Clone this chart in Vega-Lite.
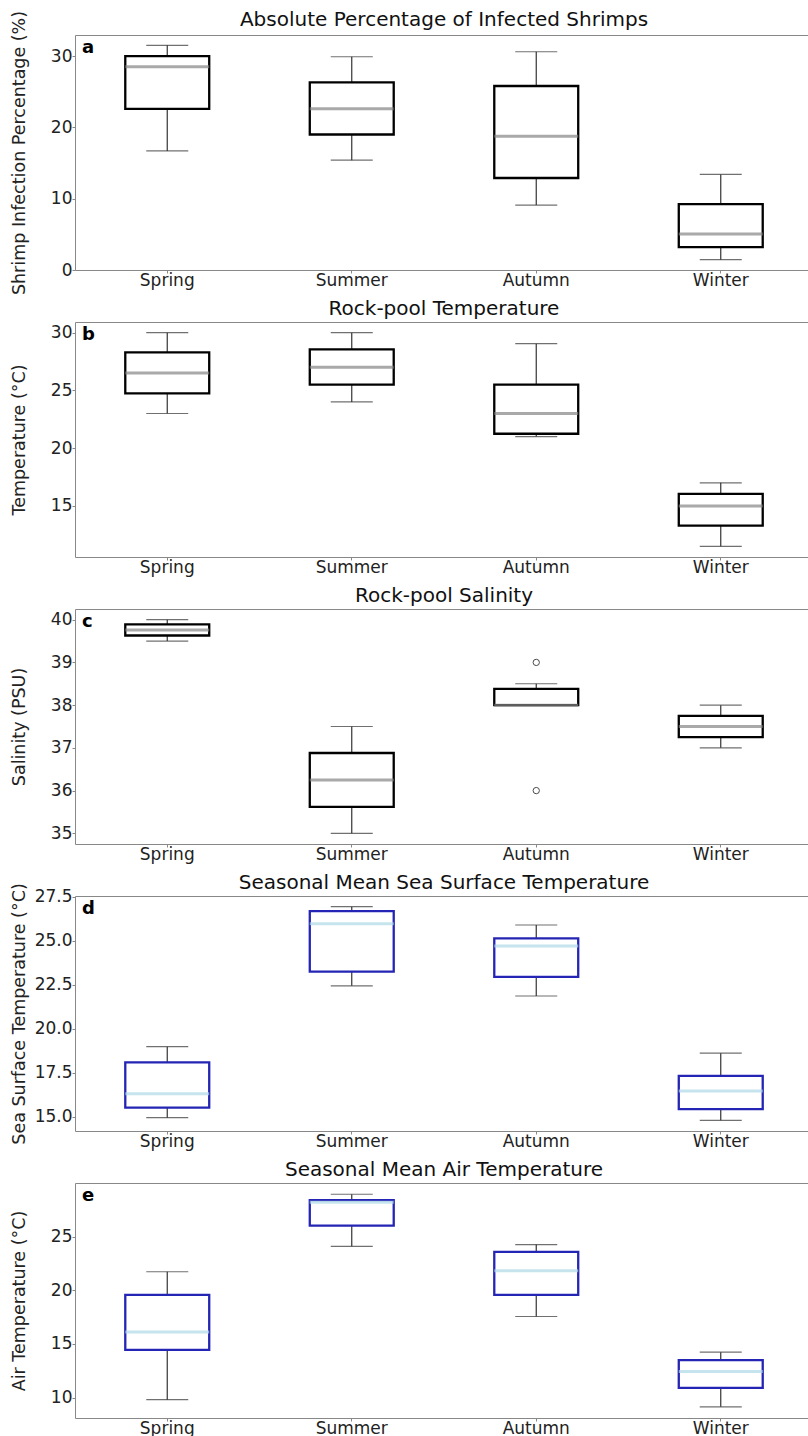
{
  "$schema": "https://vega.github.io/schema/vega-lite/v6.json",
  "padding": {"left": 9, "top": 9, "right": 0, "bottom": 0},
  "spacing": 52,
  "bounds": "flush",
  "datasets": {
    "a": [
      {"season": "Spring", "min": 16.7, "q1": 22.6, "median": 28.5, "q3": 30.0, "max": 31.5},
      {"season": "Summer", "min": 15.4, "q1": 19.0, "median": 22.6, "q3": 26.3, "max": 29.9},
      {"season": "Autumn", "min": 9.1, "q1": 12.9, "median": 18.75, "q3": 25.8, "max": 30.6},
      {"season": "Winter", "min": 1.45, "q1": 3.2, "median": 5.05, "q3": 9.25, "max": 13.4}
    ],
    "b": [
      {"season": "Spring", "min": 23.0, "q1": 24.75, "median": 26.5, "q3": 28.3, "max": 30.0},
      {"season": "Summer", "min": 24.0, "q1": 25.5, "median": 27.0, "q3": 28.55, "max": 30.0},
      {"season": "Autumn", "min": 21.0, "q1": 21.25, "median": 23.0, "q3": 25.5, "max": 29.05},
      {"season": "Winter", "min": 11.5, "q1": 13.3, "median": 15.0, "q3": 16.05, "max": 17.0}
    ],
    "c": [
      {"season": "Spring", "min": 39.5, "q1": 39.63, "median": 39.76, "q3": 39.89, "max": 40.0},
      {"season": "Summer", "min": 35.0, "q1": 35.62, "median": 36.25, "q3": 36.88, "max": 37.5},
      {"season": "Autumn", "min": 38.0, "q1": 38.0, "median": 38.0, "q3": 38.38, "max": 38.5},
      {"season": "Winter", "min": 37.0, "q1": 37.25, "median": 37.5, "q3": 37.75, "max": 38.0}
    ],
    "c_out": [
      {"season": "Autumn", "value": 39.0},
      {"season": "Autumn", "value": 36.0}
    ],
    "d": [
      {"season": "Spring", "min": 14.94, "q1": 15.51, "median": 16.3, "q3": 18.08, "max": 18.98},
      {"season": "Summer", "min": 22.44, "q1": 23.25, "median": 25.97, "q3": 26.69, "max": 26.94},
      {"season": "Autumn", "min": 21.86, "q1": 22.95, "median": 24.71, "q3": 25.14, "max": 25.9},
      {"season": "Winter", "min": 14.79, "q1": 15.43, "median": 16.45, "q3": 17.32, "max": 18.61}
    ],
    "e": [
      {"season": "Spring", "min": 9.81, "q1": 14.44, "median": 16.11, "q3": 19.57, "max": 21.73},
      {"season": "Summer", "min": 24.1, "q1": 26.02, "median": 28.21, "q3": 28.4, "max": 28.95},
      {"season": "Autumn", "min": 17.56, "q1": 19.57, "median": 21.82, "q3": 23.58, "max": 24.26},
      {"season": "Winter", "min": 9.14, "q1": 10.9, "median": 12.44, "q3": 13.49, "max": 14.23}
    ]
  },
  "vconcat": [
    {
      "width": 738, "height": 235,
      "title": {"text": "Absolute Percentage of Infected Shrimps", "offset": -20},
      "data": {"name": "a"},
      "encoding": {"x": {"field": "season", "type": "nominal", "sort": ["Spring", "Summer", "Autumn", "Winter"], "scale": {"paddingInner": 0, "paddingOuter": 0}, "axis": {"title": null}}},
      "layer": [
        {"mark": {"type": "rule", "color": "#333333", "strokeWidth": 1.2}, "encoding": {"y": {"field": "min", "type": "quantitative", "title": "Shrimp Infection Percentage (%)", "scale": {"domain": [0, 32.95], "nice": false, "zero": false}, "axis": {"values": [0, 10, 20, 30]}}, "y2": {"field": "max"}}},
        {"mark": {"type": "tick", "orient": "horizontal", "size": 42, "thickness": 1.2, "color": "#333333"}, "encoding": {"y": {"field": "min", "type": "quantitative"}}},
        {"mark": {"type": "tick", "orient": "horizontal", "size": 42, "thickness": 1.2, "color": "#333333"}, "encoding": {"y": {"field": "max", "type": "quantitative"}}},
        {"mark": {"type": "bar", "fill": "white", "stroke": "black", "strokeWidth": 2.3, "width": {"band": 0.455}}, "encoding": {"y": {"field": "q1", "type": "quantitative"}, "y2": {"field": "q3"}}},
        {"mark": {"type": "tick", "orient": "horizontal", "size": 84, "thickness": 3, "color": "#858585"}, "encoding": {"y": {"field": "median", "type": "quantitative"}}},
        {"data": {"values": [{"tag": "a"}]}, "mark": {"type": "text", "fontWeight": "bold", "fontSize": 18, "align": "left", "baseline": "top", "dx": 7, "dy": 4, "color": "black"}, "encoding": {"x": {"datum": "Spring", "bandPosition": 0}, "y": {"datum": 32.95, "type": "quantitative"}, "text": {"field": "tag"}}}
      ]
    },
    {
      "width": 738, "height": 235,
      "title": {"text": "Rock-pool Temperature", "offset": 3},
      "data": {"name": "b"},
      "encoding": {"x": {"field": "season", "type": "nominal", "sort": ["Spring", "Summer", "Autumn", "Winter"], "scale": {"paddingInner": 0, "paddingOuter": 0}, "axis": {"title": null}}},
      "layer": [
        {"mark": {"type": "rule", "color": "#333333", "strokeWidth": 1.2}, "encoding": {"y": {"field": "min", "type": "quantitative", "title": "Temperature (°C)", "scale": {"domain": [10.575, 30.925], "nice": false, "zero": false}, "axis": {"values": [15, 20, 25, 30]}}, "y2": {"field": "max"}}},
        {"mark": {"type": "tick", "orient": "horizontal", "size": 42, "thickness": 1.2, "color": "#333333"}, "encoding": {"y": {"field": "min", "type": "quantitative"}}},
        {"mark": {"type": "tick", "orient": "horizontal", "size": 42, "thickness": 1.2, "color": "#333333"}, "encoding": {"y": {"field": "max", "type": "quantitative"}}},
        {"mark": {"type": "bar", "fill": "white", "stroke": "black", "strokeWidth": 2.3, "width": {"band": 0.455}}, "encoding": {"y": {"field": "q1", "type": "quantitative"}, "y2": {"field": "q3"}}},
        {"mark": {"type": "tick", "orient": "horizontal", "size": 84, "thickness": 3, "color": "#858585"}, "encoding": {"y": {"field": "median", "type": "quantitative"}}},
        {"data": {"values": [{"tag": "b"}]}, "mark": {"type": "text", "fontWeight": "bold", "fontSize": 18, "align": "left", "baseline": "top", "dx": 7, "dy": 4, "color": "black"}, "encoding": {"x": {"datum": "Spring", "bandPosition": 0}, "y": {"datum": 30.925, "type": "quantitative"}, "text": {"field": "tag"}}}
      ]
    },
    {
      "width": 738, "height": 235,
      "title": {"text": "Rock-pool Salinity", "offset": 3},
      "data": {"name": "c"},
      "encoding": {"x": {"field": "season", "type": "nominal", "sort": ["Spring", "Summer", "Autumn", "Winter"], "scale": {"paddingInner": 0, "paddingOuter": 0}, "axis": {"title": null}}},
      "layer": [
        {"mark": {"type": "rule", "color": "#333333", "strokeWidth": 1.2}, "encoding": {"y": {"field": "min", "type": "quantitative", "title": "Salinity (PSU)", "scale": {"domain": [34.75, 40.25], "nice": false, "zero": false}, "axis": {"values": [35, 36, 37, 38, 39, 40]}}, "y2": {"field": "max"}}},
        {"mark": {"type": "tick", "orient": "horizontal", "size": 42, "thickness": 1.2, "color": "#333333"}, "encoding": {"y": {"field": "min", "type": "quantitative"}}},
        {"mark": {"type": "tick", "orient": "horizontal", "size": 42, "thickness": 1.2, "color": "#333333"}, "encoding": {"y": {"field": "max", "type": "quantitative"}}},
        {"mark": {"type": "bar", "fill": "white", "stroke": "black", "strokeWidth": 2.3, "width": {"band": 0.455}}, "encoding": {"y": {"field": "q1", "type": "quantitative"}, "y2": {"field": "q3"}}},
        {"mark": {"type": "tick", "orient": "horizontal", "size": 84, "thickness": 3, "color": "#858585"}, "encoding": {"y": {"field": "median", "type": "quantitative"}}},
        {"data": {"name": "c_out"}, "mark": {"type": "point", "shape": "circle", "filled": false, "size": 40, "stroke": "black", "strokeWidth": 1}, "encoding": {"x": {"field": "season", "type": "nominal"}, "y": {"field": "value", "type": "quantitative"}}},
        {"data": {"values": [{"tag": "c"}]}, "mark": {"type": "text", "fontWeight": "bold", "fontSize": 18, "align": "left", "baseline": "top", "dx": 7, "dy": 4, "color": "black"}, "encoding": {"x": {"datum": "Spring", "bandPosition": 0}, "y": {"datum": 40.25, "type": "quantitative"}, "text": {"field": "tag"}}}
      ]
    },
    {
      "width": 738, "height": 235,
      "title": {"text": "Seasonal Mean Sea Surface Temperature", "offset": -10},
      "data": {"name": "d"},
      "encoding": {"x": {"field": "season", "type": "nominal", "sort": ["Spring", "Summer", "Autumn", "Winter"], "scale": {"paddingInner": 0, "paddingOuter": 0}, "axis": {"title": null}}},
      "layer": [
        {"mark": {"type": "rule", "color": "#333333", "strokeWidth": 1.2}, "encoding": {"y": {"field": "min", "type": "quantitative", "title": "Sea Surface Temperature (°C)", "scale": {"domain": [14.18, 27.55], "nice": false, "zero": false}, "axis": {"values": [15, 17.5, 20, 22.5, 25, 27.5], "format": ".1f"}}, "y2": {"field": "max"}}},
        {"mark": {"type": "tick", "orient": "horizontal", "size": 42, "thickness": 1.2, "color": "#333333"}, "encoding": {"y": {"field": "min", "type": "quantitative"}}},
        {"mark": {"type": "tick", "orient": "horizontal", "size": 42, "thickness": 1.2, "color": "#333333"}, "encoding": {"y": {"field": "max", "type": "quantitative"}}},
        {"mark": {"type": "bar", "fill": "white", "stroke": "#2525b5", "strokeWidth": 2.3, "width": {"band": 0.455}}, "encoding": {"y": {"field": "q1", "type": "quantitative"}, "y2": {"field": "q3"}}},
        {"mark": {"type": "tick", "orient": "horizontal", "size": 84, "thickness": 3, "color": "#add8e6"}, "encoding": {"y": {"field": "median", "type": "quantitative"}}},
        {"data": {"values": [{"tag": "d"}]}, "mark": {"type": "text", "fontWeight": "bold", "fontSize": 18, "align": "left", "baseline": "top", "dx": 7, "dy": 4, "color": "black"}, "encoding": {"x": {"datum": "Spring", "bandPosition": 0}, "y": {"datum": 27.55, "type": "quantitative"}, "text": {"field": "tag"}}}
      ]
    },
    {
      "width": 738, "height": 235,
      "title": {"text": "Seasonal Mean Air Temperature", "offset": 3},
      "data": {"name": "e"},
      "encoding": {"x": {"field": "season", "type": "nominal", "sort": ["Spring", "Summer", "Autumn", "Winter"], "scale": {"paddingInner": 0, "paddingOuter": 0}, "axis": {"title": null}}},
      "layer": [
        {"mark": {"type": "rule", "color": "#333333", "strokeWidth": 1.2}, "encoding": {"y": {"field": "min", "type": "quantitative", "title": "Air Temperature (°C)", "scale": {"domain": [8.1, 30.0], "nice": false, "zero": false}, "axis": {"values": [10, 15, 20, 25]}}, "y2": {"field": "max"}}},
        {"mark": {"type": "tick", "orient": "horizontal", "size": 42, "thickness": 1.2, "color": "#333333"}, "encoding": {"y": {"field": "min", "type": "quantitative"}}},
        {"mark": {"type": "tick", "orient": "horizontal", "size": 42, "thickness": 1.2, "color": "#333333"}, "encoding": {"y": {"field": "max", "type": "quantitative"}}},
        {"mark": {"type": "bar", "fill": "white", "stroke": "#2525b5", "strokeWidth": 2.3, "width": {"band": 0.455}}, "encoding": {"y": {"field": "q1", "type": "quantitative"}, "y2": {"field": "q3"}}},
        {"mark": {"type": "tick", "orient": "horizontal", "size": 84, "thickness": 3, "color": "#add8e6"}, "encoding": {"y": {"field": "median", "type": "quantitative"}}},
        {"data": {"values": [{"tag": "e"}]}, "mark": {"type": "text", "fontWeight": "bold", "fontSize": 18, "align": "left", "baseline": "top", "dx": 7, "dy": 4, "color": "black"}, "encoding": {"x": {"datum": "Spring", "bandPosition": 0}, "y": {"datum": 30.0, "type": "quantitative"}, "text": {"field": "tag"}}}
      ]
    }
  ],
  "config": {
    "font": "DejaVu Sans",
    "view": {"stroke": "#888888", "strokeWidth": 1},
    "axis": {"domain": false, "grid": false, "tickColor": "#888888", "tickSize": 3, "labelFontSize": 17, "labelColor": "#222222", "labelPadding": 0, "titleFontSize": 17.5, "titleFontWeight": "normal", "titleColor": "#222222"},
    "axisX": {"labelAngle": 0, "labelPadding": -1},
    "axisY": {"titleX": -47},
    "title": {"fontSize": 20, "fontWeight": "normal", "color": "#111111", "frame": "group", "anchor": "middle"}
  }
}
